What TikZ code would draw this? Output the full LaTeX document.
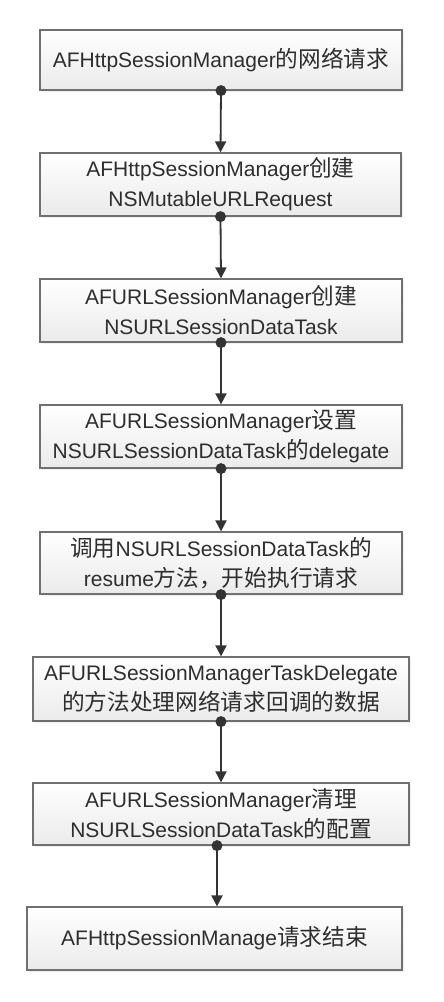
\documentclass[tikz,border=0pt]{standalone}
\usepackage{fontspec}
\setmainfont{Liberation Sans}
\newfontfamily\cjk[Scale=1.08]{Noto Sans CJK SC}
\usetikzlibrary{arrows.meta,shadows}
\definecolor{txt}{HTML}{2E2E2E}
\definecolor{bord}{HTML}{707070}
\definecolor{lin}{HTML}{333333}
\newcommand{\zh}[1]{{\cjk #1}}
\begin{document}
\begin{tikzpicture}[x=1pt,y=-1pt,
 box/.style={draw=bord, line width=1.2pt, top color=white, bottom color=black!8,
   drop shadow={opacity=0.12,shadow xshift=2pt,shadow yshift=-2pt},
   inner sep=0pt, align=center, text=txt, font=\fontsize{21}{30}\selectfont},
 conn/.style={draw=lin, line width=1.8pt, -{Triangle[width=11pt,length=11pt]}},
 dotc/.style={fill=lin}]
\useasboundingbox (0,0) rectangle (444,1002);
\node[box, minimum width=362pt, minimum height=60pt] (b1) at (221,60) {AFHttpSessionManager\zh{的网络请求}};
\node[box, minimum width=361pt, minimum height=63pt] (b2) at (220.5,184.5) {AFHttpSessionManager\zh{创建}\\NSMutableURLRequest};
\node[box, minimum width=362pt, minimum height=63pt] (b3) at (221,310.5) {AFURLSessionManager\zh{创建}\\NSURLSessionDataTask};
\node[box, minimum width=362pt, minimum height=63pt] (b4) at (221,436.5) {AFURLSessionManager\zh{设置}\\NSURLSessionDataTask\zh{的}delegate};
\node[box, minimum width=362pt, minimum height=62pt] (b5) at (221,563) {\zh{调用}NSURLSessionDataTask\zh{的}\\resume\zh{方法，开始执行请求}};
\node[box, minimum width=376pt, minimum height=64pt] (b6) at (221,689) {AFURLSessionManagerTaskDelegate\\\zh{的方法处理网络请求回调的数据}};
\node[box, minimum width=376pt, minimum height=62pt] (b7) at (221,814) {AFURLSessionManager\zh{清理}\\NSURLSessionDataTask\zh{的配置}};
\node[box, minimum width=375pt, minimum height=63pt] (b8) at (214.5,938.5) {AFHttpSessionManage\zh{请求结束}};
\draw[conn] (b1.south) -- (b2.north);
\draw[conn] (b2.south) -- (b3.north);
\draw[conn] (b3.south) -- (b4.north);
\draw[conn] (b4.south) -- (b5.north);
\draw[conn] (b5.south) -- (b6.north);
\draw[conn] (b6.south) -- (b7.north);
\draw[conn] ([xshift=-4pt]b7.south) -- ([xshift=2.5pt]b8.north);
\fill[dotc] (b1.south) circle (5.5pt);
\fill[dotc] (b2.south) circle (5.5pt);
\fill[dotc] (b3.south) circle (5.5pt);
\fill[dotc] (b4.south) circle (5.5pt);
\fill[dotc] (b5.south) circle (5.5pt);
\fill[dotc] (b6.south) circle (5.5pt);
\fill[dotc] ([xshift=-4pt]b7.south) circle (5.5pt);
\end{tikzpicture}
\end{document}
